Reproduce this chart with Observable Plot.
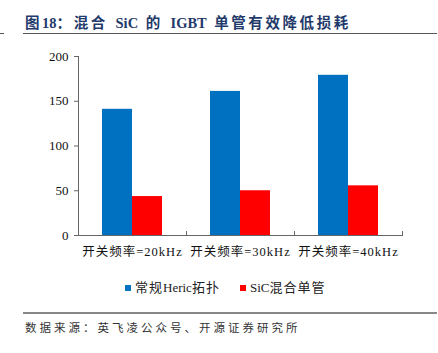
<!DOCTYPE html>
<html><head><meta charset="utf-8">
<script src="https://cdn.jsdelivr.net/npm/d3@7"></script>
<script src="https://cdn.jsdelivr.net/npm/@observablehq/plot@0.6"></script>
<style>
body{margin:0;background:#fff;}
#wrap{position:relative;width:438px;height:353px;overflow:hidden;font-family:"Liberation Serif","Noto Sans CJK SC",serif;}
.abs{position:absolute;white-space:nowrap;}
#title{left:25px;top:11px;font-size:14.5px;font-weight:bold;color:#1f3a6b;word-spacing:4px;}
#title .cjk{letter-spacing:2.6px;}
#tline{left:23px;top:33px;width:414px;height:0;border-top:1.5px solid #555;}
#tdash{left:0;top:33px;width:4px;height:0;border-top:1.5px solid #555;}
#legend{left:125px;top:277px;font-size:13px;color:#222;}
#legend .cjk{letter-spacing:1px;}
#legend span.sw{display:inline-block;width:6px;height:6px;margin-right:4px;vertical-align:1px;}
#legend span.item{margin-right:20px;}
#fline{left:23px;top:312px;width:414px;height:0;border-top:2px solid #888;}
#foot{left:25px;top:319px;font-size:11.5px;color:#333;letter-spacing:3px;}
#chart{left:0;top:0;}
#chart svg [aria-label="fx-axis tick label"] text{letter-spacing:1px;}
</style></head>
<body><div id="wrap">
<div class="abs" id="title"></div>
<div class="abs" id="tline"></div><div class="abs" id="tdash"></div>
<div class="abs" id="chart"></div>
<div class="abs" id="legend"></div>
<div class="abs" id="fline"></div>
<div class="abs" id="foot">数据来源：英飞凌公众号、开源证券研究所</div>
</div>
<script>
const titleText = "图18：混合 SiC 的 IGBT 单管有效降低损耗";
const categories = ["开关频率=20kHz", "开关频率=30kHz", "开关频率=40kHz"];
const seriesNames = ["常规Heric拓扑", "SiC混合单管"];
const heric = [141, 161, 179];
const sicHybrid = [43.5, 50, 55.5];
const colors = ["#0070C0", "#FF0000"];
const yTicks = [0, 50, 100, 150, 200];

// wrap CJK runs so only they get extra spacing
function runs(text) {
  return text.replace(/([\u3000-\u303f\u4e00-\u9fff\uff00-\uffef]+)/g, '<span class="cjk">$1</span>');
}
document.getElementById("title").innerHTML = runs(titleText);

const data = [];
categories.forEach((c, i) => {
  data.push({cat: c, series: seriesNames[0], value: heric[i]});
  data.push({cat: c, series: seriesNames[1], value: sicHybrid[i]});
});

const H = 260;
const chart = Plot.plot({
  width: 438,
  height: H,
  marginTop: 56,
  marginBottom: 25,
  marginLeft: 77,
  marginRight: 36,
  style: {fontFamily: '"Liberation Serif","Noto Sans CJK SC",serif', background: "transparent"},
  fx: {domain: categories, padding: 0, label: null},
  x: {domain: seriesNames, paddingInner: 0, paddingOuter: 0.742, axis: null},
  y: {domain: [0, 200], ticks: yTicks, label: null},
  color: {domain: seriesNames, range: colors},
  marks: [
    Plot.barY(data, {fx: "cat", x: "series", y: "value", fill: "series"}),
    Plot.ruleY([0], {stroke: "#666", strokeWidth: 1.2}),
    Plot.frame({anchor: "left", stroke: "#666", insetTop: H - 56 - 25 - 4}),
    Plot.frame({anchor: "right", stroke: "#666", insetTop: H - 56 - 25 - 4}),
    Plot.frame({anchor: "left", stroke: "#666", facetAnchor: "left"}),
    Plot.axisY({ticks: yTicks, tickSize: 4, tickPadding: 6, fontSize: 13, color: "#111", stroke: "#666", label: null}),
    Plot.axisFx({anchor: "bottom", tickSize: 0, tickPadding: 12, fontSize: 12.5, color: "#111", label: null})
  ]
});
document.getElementById("chart").appendChild(chart);

const legend = document.getElementById("legend");
seriesNames.forEach((s, i) => {
  const it = document.createElement("span");
  it.className = "item";
  it.innerHTML = `<span class="sw" style="background:${colors[i]}"></span>${runs(s)}`;
  legend.appendChild(it);
});
</script></body></html>
